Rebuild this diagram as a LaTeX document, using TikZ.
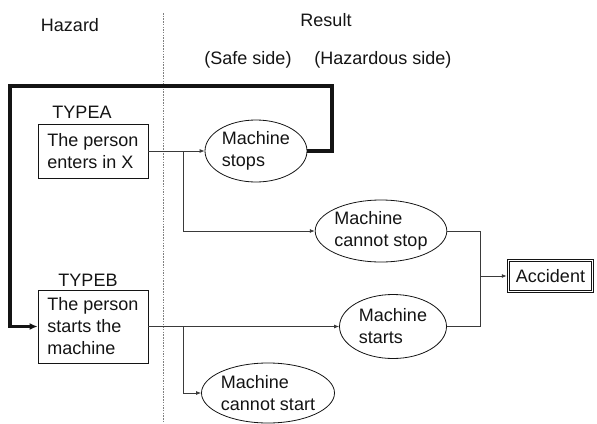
\documentclass[tikz,border=0pt]{standalone}
\usepackage{fontspec}
\setmainfont{Liberation Sans}
\usetikzlibrary{shapes.geometric,arrows.meta}
\definecolor{ink}{HTML}{141414}
\definecolor{wire}{HTML}{3A3A3A}
\begin{document}
\begin{tikzpicture}[x=1pt,y=-1pt,
  every node/.style={font=\fontsize{18}{22}\selectfont, text=ink},
  hazbox/.style={draw=ink, line width=0.8pt, rectangle, align=left,
                 inner sep=0pt, minimum width=110pt},
  result/.style={draw=ink, line width=0.8pt, ellipse, inner sep=0pt, align=left},
  finalbox/.style={draw=ink, line width=0.7pt, double, double distance=1.8pt,
                   rectangle, minimum width=84pt, minimum height=31pt, inner sep=0pt},
  link/.style={draw=wire, line width=0.8pt, -{Latex[length=5pt,width=4pt]}},
  plain/.style={draw=wire, line width=0.8pt},
  feedback/.style={draw=ink, line width=3.2pt, -{Latex[length=8pt,width=7pt]}},
  divider/.style={draw=gray, line width=0.8pt, dash pattern=on 1.5pt off 1.2pt}]

\useasboundingbox (0,0) rectangle (597,423);

% column headings
\node (hz) at (70,25) {Hazard};
\node (rs) at (326,20) {Result};
\node (safe) at (248,60) {(Safe side)};
\node (hzs) at (383,60) {(Hazardous side)};

% divider between hazard and result columns
\coordinate (dtop) at (163,13);
\coordinate (dbot) at (163,423);
\draw[divider] (dtop) -- (dbot);

% hazards
\node (ta) at (82,112) {TYPEA};
\node[hazbox, minimum height=54pt] (a) at (93,151) {The person\\enters in X};
\node (tb) at (88,280) {TYPEB};
\node[hazbox, minimum height=73pt] (b) at (93,326.5) {The person\\starts the\\machine};

% results
\node[result, minimum width=102pt, minimum height=62pt] (stops) at (256,151) {Machine\\stops};
\node[result, minimum width=131pt, minimum height=62pt] (nostop) at (381,231) {Machine\\cannot stop};
\node[result, minimum width=107pt, minimum height=64pt] (starts) at (393,326.5) {Machine\\starts};
\node[result, minimum width=118pt, minimum height=60pt] (nostart) at (268,393) {Machine\\cannot start};
\node[finalbox] (acc) at (550.5,276) {Accident};

% branching points
\coordinate (ja) at (183,151);
\coordinate (jb) at (183,326.5);
\coordinate (jr) at (480,276);
\coordinate (fr) at (332,86);
\coordinate (fl) at (10,86);

% connectors
\draw[link] (a.east) -- (stops.west);
\draw[link] (ja) |- (nostop.west);
\draw[link] (b.east) -- (starts.west);
\draw[link] (jb) |- (nostart.west);
\draw[plain] (nostop.east) -| (jr);
\draw[plain] (starts.east) -| (jr);
\draw[link, shorten >=1.4pt] (jr) -- (acc.west);

% feedback from "Machine stops" back to type B
\draw[feedback] (stops.east) -| (fr) -- (fl) |- (b.west);
\end{tikzpicture}
\end{document}
